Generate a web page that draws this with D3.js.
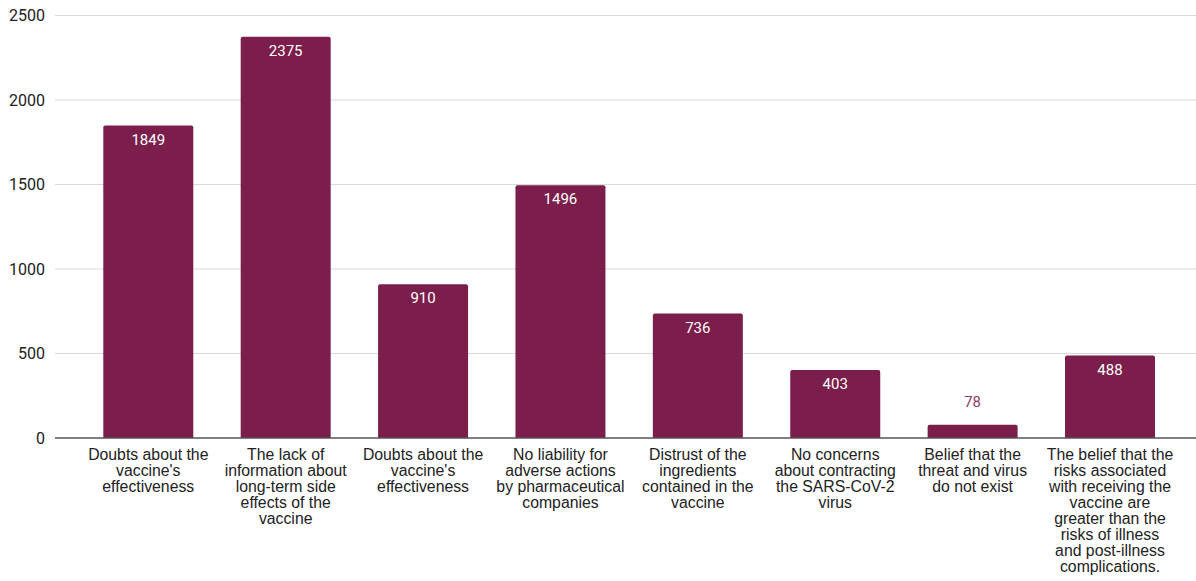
<!DOCTYPE html>
<html>
<head>
<meta charset="utf-8">
<script src="https://cdn.jsdelivr.net/npm/d3@7"></script>
<style>
  body { margin: 0; background: #fff; }
</style>
</head>
<body>
<script>
const categories = [
  ["Doubts about the", "vaccine's", "effectiveness"],
  ["The lack of", "information about", "long-term side", "effects of the", "vaccine"],
  ["Doubts about the", "vaccine's", "effectiveness"],
  ["No liability for", "adverse actions", "by pharmaceutical", "companies"],
  ["Distrust of the", "ingredients", "contained in the", "vaccine"],
  ["No concerns", "about contracting", "the SARS-CoV-2", "virus"],
  ["Belief that the", "threat and virus", "do not exist"],
  ["The belief that the", "risks associated", "with receiving the", "vaccine are", "greater than the", "risks of illness", "and post-illness", "complications."]
];
const values = [1849, 2375, 910, 1496, 736, 403, 78, 488];
const yTicks = [0, 500, 1000, 1500, 2000, 2500];

const W = 1196, H = 581;
const svg = d3.select("body").append("svg")
  .attr("width", W)
  .attr("height", H);

const x = d3.scaleBand()
  .domain(d3.range(values.length))
  .range([79.6, 1178.7])
  .paddingInner(0.345)
  .paddingOuter(0.1725);

const y = d3.scaleLinear()
  .domain([0, 2500])
  .range([438, 15.5]);

// gridlines
svg.append("g")
  .selectAll("line")
  .data(yTicks.filter(t => t > 0))
  .enter()
  .append("line")
  .attr("x1", 55).attr("x2", W)
  .attr("y1", d => y(d)).attr("y2", d => y(d))
  .attr("stroke", "#d9d9d9")
  .attr("stroke-width", 1.2);

// y labels
svg.append("g")
  .selectAll("text")
  .data(yTicks)
  .enter()
  .append("text")
  .attr("x", 45)
  .attr("y", d => y(d))
  .attr("dy", "0.35em")
  .attr("text-anchor", "end")
  .style("font-family", "Roboto, sans-serif")
  .style("font-size", "16px")
  .style("fill", "#222")
  .text(d => d);

// bars with rounded top corners
const r = 2;
svg.append("g")
  .selectAll("path")
  .data(values)
  .enter()
  .append("path")
  .attr("d", (d, i) => {
    const x0 = x(i), x1 = x(i) + x.bandwidth(), y0 = y(0), y1 = y(d);
    return `M${x0},${y0}V${y1 + r}Q${x0},${y1} ${x0 + r},${y1}H${x1 - r}Q${x1},${y1} ${x1},${y1 + r}V${y0}Z`;
  })
  .style("fill", "#7b1e4b");

// value labels
svg.append("g")
  .selectAll("text")
  .data(values)
  .enter()
  .append("text")
  .attr("x", (d, i) => x(i) + x.bandwidth() / 2)
  .attr("y", d => (y(0) - y(d) > 30) ? y(d) + 14 : y(d) - 23)
  .attr("text-anchor", "middle")
  .attr("dominant-baseline", "central")
  .style("font-family", "Roboto, sans-serif")
  .style("font-size", "15px")
  .style("fill", d => (y(0) - y(d) > 30) ? "#ffffff" : "#8f3d66")
  .text(d => d);

// baseline axis
svg.append("line")
  .attr("x1", 55).attr("x2", W)
  .attr("y1", y(0)).attr("y2", y(0))
  .attr("stroke", "#555")
  .attr("stroke-width", 1.3);

// category labels
const cat = svg.append("g")
  .selectAll("text")
  .data(categories)
  .enter()
  .append("text")
  .attr("text-anchor", "middle")
  .style("font-family", "'Liberation Sans', Arial, sans-serif")
  .style("font-size", "15.8px")
  .style("fill", "#222");

cat.selectAll("tspan")
  .data((d, i) => d.map(line => ({ line, i })))
  .enter()
  .append("tspan")
  .attr("x", d => x(d.i) + x.bandwidth() / 2)
  .attr("y", (d, j) => 460 + j * 16)
  .text(d => d.line);
</script>
</body>
</html>
